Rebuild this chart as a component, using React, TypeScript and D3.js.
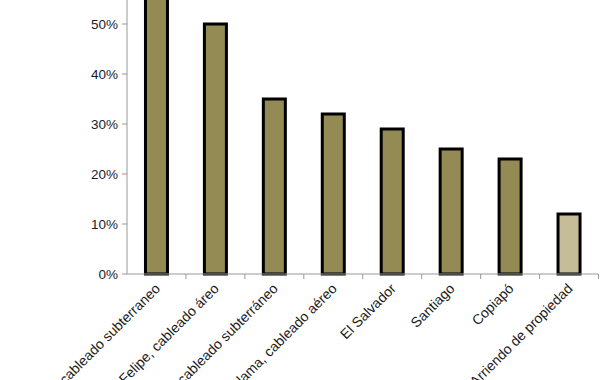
import React from "react";
import * as d3 from "d3";

const categories = [
  "Calama, cableado subterraneo",
  "San Felipe, cableado áreo",
  "San Felipe, cableado subterráneo",
  "Calama, cableado aéreo",
  "El Salvador",
  "Santiago",
  "Copiapó",
  "Arriendo de propiedad",
];
const values = [0.65, 0.5, 0.35, 0.32, 0.29, 0.25, 0.23, 0.12];
const highlight = [false, false, false, false, false, false, false, true];
const yTicks = [0, 0.1, 0.2, 0.3, 0.4, 0.5];

const W = 604;
const H = 380;

export default function App() {
  const x = d3.scaleBand<string>().domain(categories).range([127, 598.5]).paddingInner(0).paddingOuter(0);
  const y = d3.scaleLinear().domain([0, 0.1]).range([274, 224]);
  const bw = 22;
  const font = "'Liberation Sans', Arial, sans-serif";
  return (
    <div style={{ position: "absolute", left: 0, top: 0 }}>
      <svg width={W} height={H} style={{ display: "block" }}>
        <rect width={W} height={H} fill="#fff" />
        <line x1={127} x2={127} y1={0} y2={y(0)} stroke="#999" strokeWidth={1} />
        {yTicks.map((t) => (
          <g key={t}>
            <line x1={122} x2={127} y1={y(t)} y2={y(t)} stroke="#999" />
            <text x={118} y={y(t)} dy="0.35em" textAnchor="end" fontFamily={font} fontSize={13.5} fill="#1a1a2e">
              {d3.format(".0%")(t)}
            </text>
          </g>
        ))}
        {categories.map((c, i) => {
          const cx = (x(c) as number) + x.bandwidth() / 2;
          return (
            <rect
              key={c}
              x={cx - bw / 2}
              y={y(values[i])}
              width={bw}
              height={y(0) - y(values[i])}
              fill={highlight[i] ? "#C4BD97" : "#948A54"}
              stroke="#000"
              strokeWidth={3}
            />
          );
        })}
        <line x1={127} x2={598.5} y1={y(0)} y2={y(0)} stroke="#999" />
        {categories.map((c) => (
          <line key={c} x1={(x(c) as number) + x.bandwidth()} x2={(x(c) as number) + x.bandwidth()} y1={y(0)} y2={y(0) + 5} stroke="#999" />
        ))}
        {categories.map((c) => {
          const cx = (x(c) as number) + x.bandwidth() / 2;
          return (
            <text
              key={c}
              transform={`translate(${cx + 1},${y(0) + 12}) rotate(-45)`}
              textAnchor="end"
              dy="0.35em"
              fontFamily={font}
              fontSize={14}
              fill="#1a1a1a"
            >
              {c}
            </text>
          );
        })}
      </svg>
    </div>
  );
}
